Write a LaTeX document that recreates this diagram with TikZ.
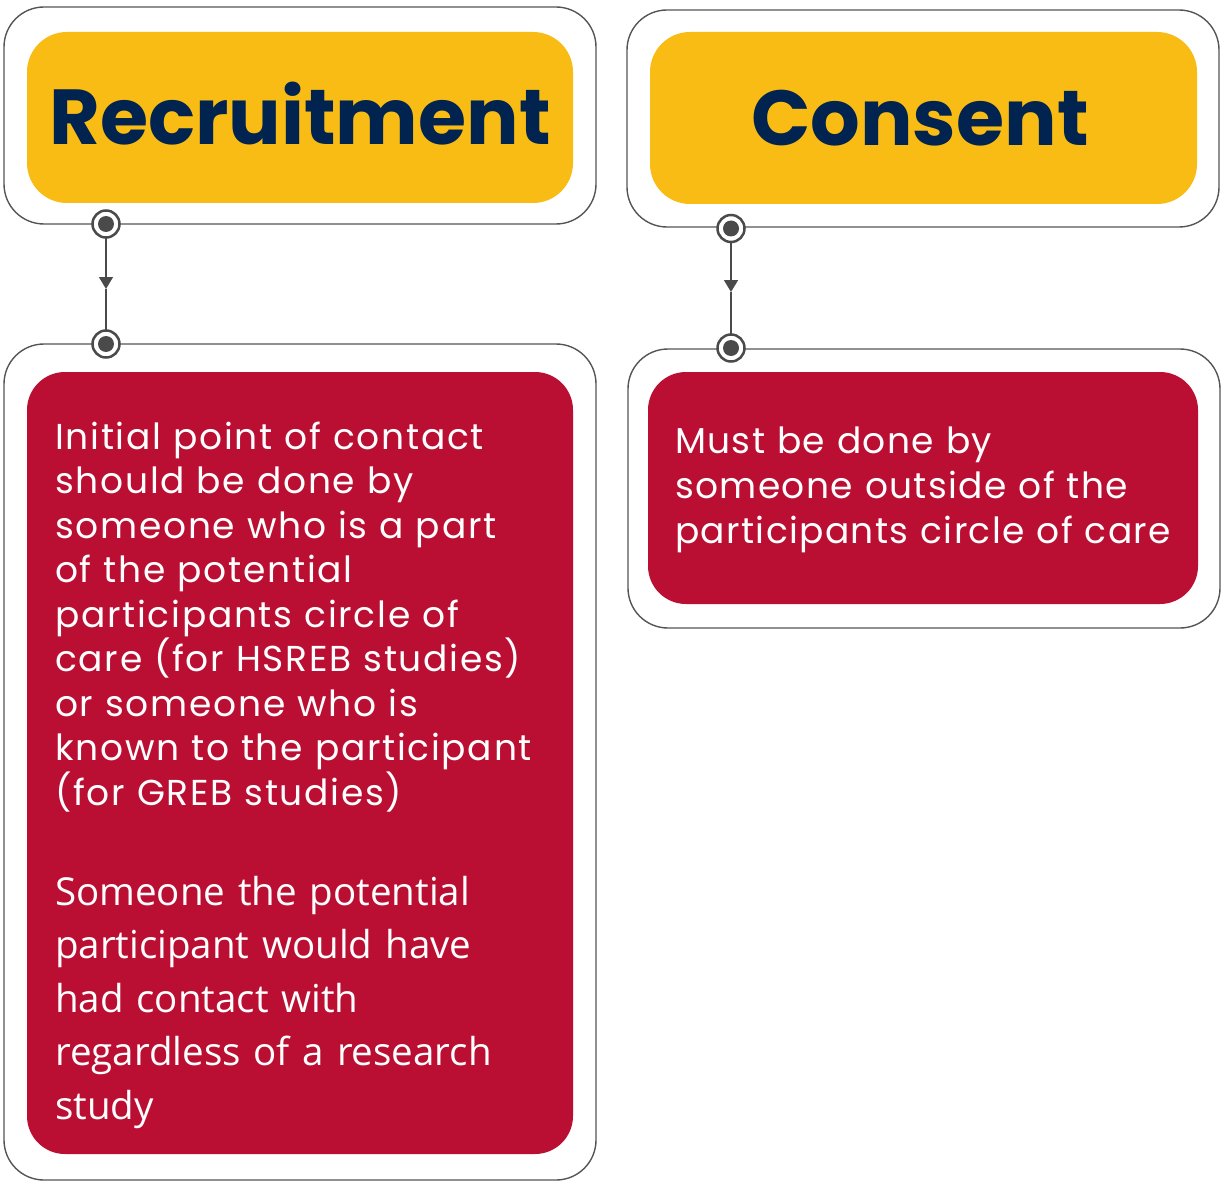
\documentclass[tikz,border=0pt]{standalone}
\usepackage{fontspec}
\setmainfont{Poppins}
\newfontfamily\parafont{Open Sans}
\newfontfamily\gothfont{Poppins}[LetterSpace=3.8]
\newfontfamily\gothwidefont{Poppins}[LetterSpace=4.8]
\usetikzlibrary{arrows.meta}
\definecolor{boxyellow}{HTML}{F9BC15}
\definecolor{boxnavy}{HTML}{00234F}
\definecolor{boxred}{HTML}{BA0F32}
\definecolor{framegray}{HTML}{555555}
\definecolor{dotgray}{HTML}{4A4A4A}
\tikzset{
  frame/.style={draw=framegray, line width=1.4pt, fill=white, rounded corners=40pt, inner sep=0pt},
  yellowbox/.style={fill=boxyellow, rounded corners=40pt, inner sep=0pt},
  redbox/.style={fill=boxred, rounded corners=38pt, inner sep=0pt},
  title/.style={text=boxnavy, font=\fontsize{78}{80}\selectfont\bfseries, inner sep=0pt},
  bodytext/.style={text=white, inner sep=0pt, align=left},
  dot/.style={circle, draw=dotgray, line width=2.5pt, fill=white, minimum size=27pt, inner sep=0pt,
    path picture={\fill[dotgray] (path picture bounding box.center) circle (8pt);}},
  link/.style={draw=dotgray, line width=1.5pt},
}
\begin{document}
\begin{tikzpicture}[x=1pt,y=-1pt]
\useasboundingbox (0,0) rectangle (1225,1182);
% outer frames
\node[frame, minimum width=592pt, minimum height=217pt] (frameRT) at (300,115.5) {};
\node[frame, minimum width=592pt, minimum height=217pt] (frameCT) at (923,118.5) {};
\node[frame, minimum width=592pt, minimum height=836pt] (frameRB) at (300,762) {};
\node[frame, minimum width=592pt, minimum height=279pt] (frameCB) at (924,488.5) {};
% coloured boxes
\node[yellowbox, minimum width=546pt, minimum height=171pt] (yR) at (300,117.5) {};
\node[yellowbox, minimum width=547pt, minimum height=172pt] (yC) at (923.5,118) {};
\node[redbox, minimum width=546pt, minimum height=782pt] (rR) at (300,763) {};
\node[redbox, minimum width=550pt, minimum height=232pt] (rC) at (923,488) {};
% titles
\node[title, anchor=base] (tR) at (300,145) {Recruitment};
\node[title, anchor=base] (tC) at (920,146) {Consent};
% body texts
\node[bodytext, anchor=base west, text width=540pt,
  font=\gothwidefont\fontsize{36}{44.5}\selectfont] (bR1) at (55,449)
 {Initial point of contact\\ should be done by\\ someone who is a part\\ of the potential\\ participants circle of\\ care (for HSREB studies)\\ or someone who is\\ known to the participant\\ (for GREB studies)};
\node[bodytext, anchor=base west, text width=540pt,
  font=\parafont\fontsize{38.5}{53.5}\selectfont] (bR2) at (55,905)
 {Someone the potential\\ participant would have\\ had contact with\\ regardless of a research\\ study};
\node[bodytext, anchor=base west, text width=540pt,
  font=\gothfont\fontsize{36}{45}\selectfont] (bC) at (675,453)
 {Must be done by\\ someone outside of the\\ participants circle of care};
% connectors
\coordinate (c1) at (106,224);
\coordinate (c2) at (106,344);
\coordinate (c3) at (731,228.5);
\coordinate (c4) at (731,348);
\coordinate (m1) at (106,289);
\coordinate (m2) at (731,292);
\draw[link, -{Triangle[length=12pt,width=14pt]}] (c1) -- (m1);
\draw[link] (m1) -- (c2);
\draw[link, -{Triangle[length=12pt,width=14pt]}] (c3) -- (m2);
\draw[link] (m2) -- (c4);
\node[dot] (d1) at (c1) {};
\node[dot] (d2) at (c2) {};
\node[dot] (d3) at (c3) {};
\node[dot] (d4) at (c4) {};
\end{tikzpicture}
\end{document}
